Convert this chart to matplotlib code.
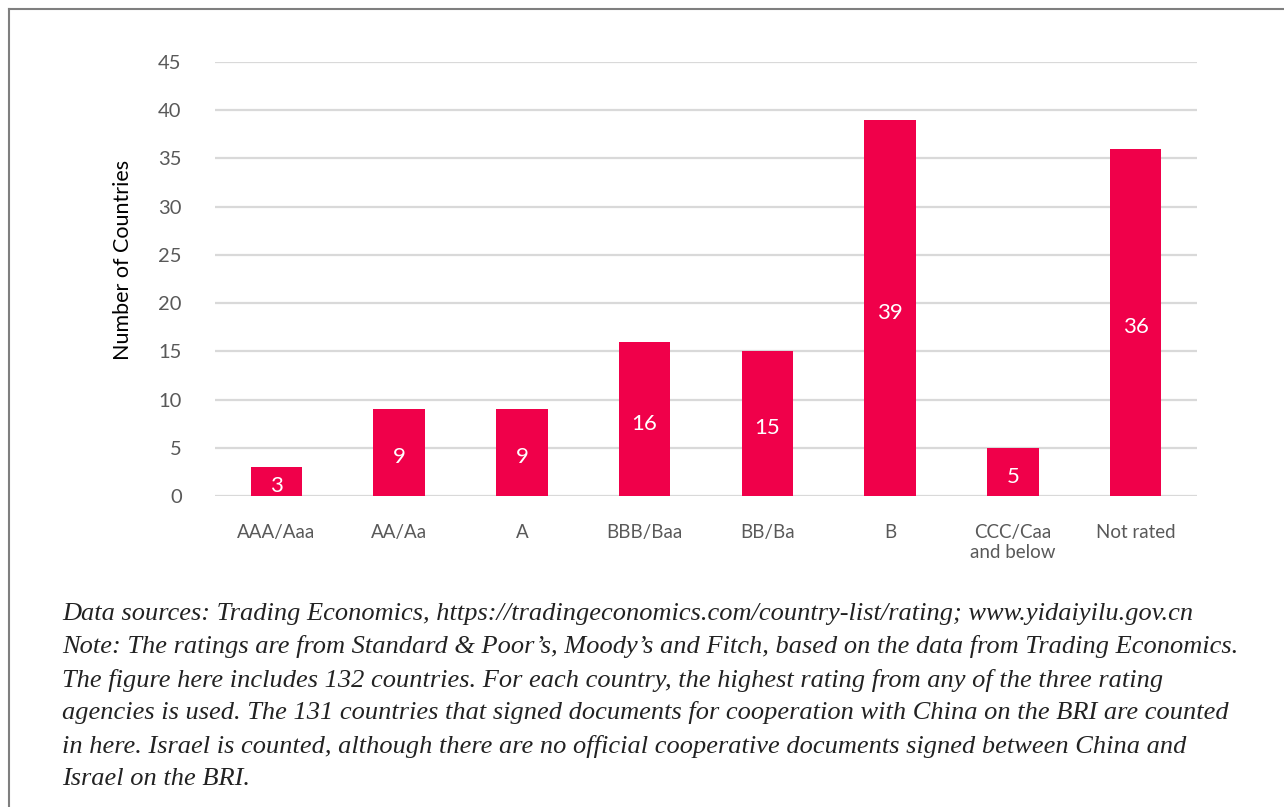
import matplotlib.pyplot as plt
import numpy as np
from matplotlib.lines import Line2D

# data
categories = ['AAA/Aaa', 'AA/Aa', 'A', 'BBB/Baa', 'BB/Ba', 'B', 'CCC/Caa\nand below', 'Not rated']
counts = [3, 9, 9, 16, 15, 39, 5, 36]
yticks = list(range(0, 50, 5))
note_lines = [
    "Data sources: Trading Economics, https://tradingeconomics.com/country-list/rating; www.yidaiyilu.gov.cn",
    "Note: The ratings are from Standard & Poor\u2019s, Moody\u2019s and Fitch, based on the data from Trading Economics.",
    "The figure here includes 132 countries. For each country, the highest rating from any of the three rating",
    "agencies is used. The 131 countries that signed documents for cooperation with China on the BRI are counted",
    "in here. Israel is counted, although there are no official cooperative documents signed between China and",
    "Israel on the BRI.",
]

bar_color = '#f0004a'
grid_color = '#d9d9d9'
tick_color = '#595959'

plt.rcParams['font.family'] = ['Lato', 'DejaVu Sans']

fig = plt.figure(figsize=(12.84, 8.07), dpi=100)
ax = fig.add_axes([215/1284, 1-496/807, (1197-215)/1284, (496-62)/807])

x = np.arange(len(categories))
bars = ax.bar(x, counts, width=0.42, color=bar_color, zorder=3)
for b, v in zip(bars, counts):
    ax.text(b.get_x() + b.get_width()/2, v/2 - 0.5, str(v), ha='center', va='center',
            color='white', fontsize=16, zorder=4)

ax.set_xlim(-0.5, len(categories) - 0.5)
ax.set_ylim(0, 45)
ax.set_yticks(yticks)
ax.set_xticks(x)
ax.set_xticklabels(categories, fontsize=13.5, color=tick_color, linespacing=1.25, va='top')
ax.tick_params(axis='y', length=0, pad=24, labelsize=14.5, labelcolor=tick_color)
ax.tick_params(axis='x', length=0, pad=20)
ax.grid(axis='y', color=grid_color, linewidth=1.6, zorder=0)
for s in ax.spines.values():
    s.set_visible(False)
ax.set_ylabel('Number of Countries', fontsize=15.5, color='black')
ax.yaxis.set_label_coords(-0.084, 0.544)

# outer frame (top and left only visible)
fig.add_artist(Line2D([9/1284, 1], [1-9/807, 1-9/807], transform=fig.transFigure, color='#7f7f7f', lw=1.5))
fig.add_artist(Line2D([9/1284, 9/1284], [0, 1-9/807], transform=fig.transFigure, color='#7f7f7f', lw=1.5))

for i, line in enumerate(note_lines):
    fig.text(62/1284, 1-(614 + 33*i)/807, line, fontsize=19, style='italic',
             family='Liberation Serif', color='#222222', va='center', ha='left')

fig.savefig('out.png', dpi=100)
